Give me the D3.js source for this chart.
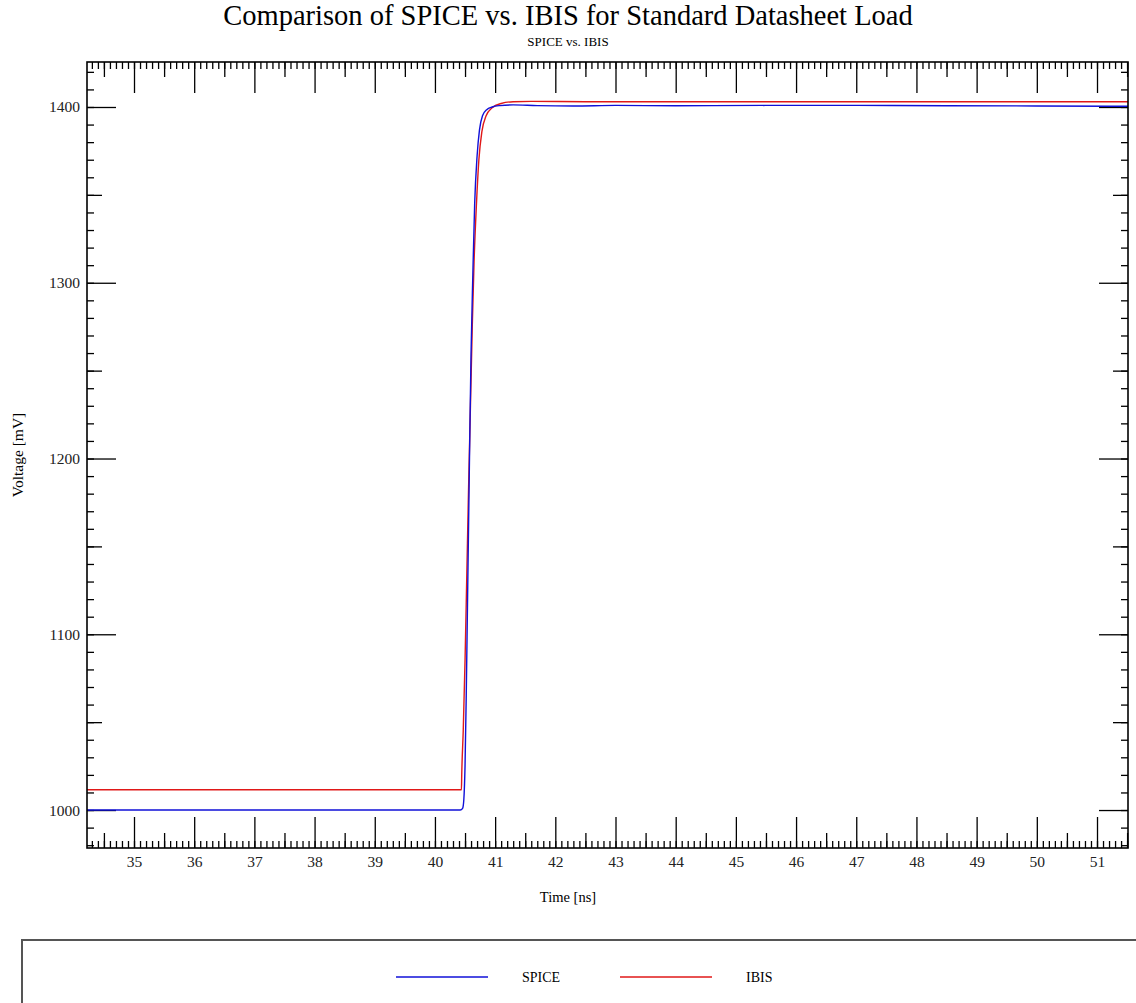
<!DOCTYPE html>
<html>
<head>
<meta charset="utf-8">
<script src="https://cdn.jsdelivr.net/npm/d3@7"></script>
<style>
  body { margin: 0; background: #fff; }
  svg { display: block; font-family: "Liberation Serif", "Times New Roman", serif; }
  .axis path { display: none; }
  .axis line { stroke: #000; stroke-width: 1.3; }
  .axis text { font-size: 15.5px; fill: #222; font-family: "Liberation Serif", "Times New Roman", serif; }
</style>
</head>
<body>
<div id="chart"></div>
<script>
// series data (time in ns, voltage in mV)
const spiceTime = [34.22, 40.42, 40.46, 40.48, 40.50, 40.52, 40.54, 40.56, 40.58, 40.60, 40.63, 40.66, 40.70, 40.74, 40.79, 40.86, 40.95, 41.08, 41.3, 41.7, 42.3, 43.0, 44.0, 45.5, 47.0, 48.5, 50.0, 51.52];
const spiceVolt = [1000, 1000, 1001, 1006, 1025, 1065, 1115, 1165, 1215, 1260, 1305, 1345, 1372, 1387, 1395, 1398.5, 1400, 1400.8, 1401.2, 1400.8, 1400.6, 1400.9, 1400.7, 1400.9, 1400.9, 1400.7, 1400.6, 1400.4];

const ibisTime = [34.22, 40.44, 40.445, 40.47, 40.50, 40.53, 40.56, 40.59, 40.62, 40.65, 40.69, 40.73, 40.78, 40.85, 40.95, 41.1, 41.3, 41.6, 42.5, 45, 48, 51.52];
const ibisVolt = [1011.5, 1011.5, 1020, 1045, 1085, 1135, 1185, 1230, 1275, 1312, 1345, 1370, 1386, 1395, 1399.5, 1402, 1403, 1403.2, 1403, 1403, 1403, 1403];

const seriesNames = ["SPICE", "IBIS"];
const seriesColors = ["#1010d8", "#e01818"];

const xDomain = [34.219, 51.515];
const yDomain = [978.4, 1425.6];
const xMajorTicks = d3.range(35, 52);
const yMajorTicks = [1000, 1100, 1200, 1300, 1400];

const svgWidth = 1136;
const svgHeight = 1003;
const margin = { top: 62, right: 8, bottom: 155, left: 87 };
const width = svgWidth - margin.left - margin.right;
const height = svgHeight - margin.top - margin.bottom;

const svg = d3.select("#chart").append("svg")
  .attr("width", svgWidth)
  .attr("height", svgHeight);

svg.append("rect").attr("width", svgWidth).attr("height", svgHeight).attr("fill", "#fff");

// titles
svg.append("text")
  .attr("x", 568).attr("y", 25)
  .attr("text-anchor", "middle")
  .style("font-size", "28.5px")
  .text("Comparison of SPICE vs. IBIS for Standard Datasheet Load");

svg.append("text")
  .attr("x", 568).attr("y", 46)
  .attr("text-anchor", "middle")
  .style("font-size", "13px")
  .text("SPICE vs. IBIS");

const chartGroup = svg.append("g")
  .attr("transform", `translate(${margin.left}, ${margin.top})`);

const x = d3.scaleLinear().domain(xDomain).range([0, width]);
const y = d3.scaleLinear().domain(yDomain).range([height, 0]);

// tick sets: minor every 0.1 ns / 10 mV, medium at the halves
const xMinor = d3.range(343, 516).map(i => i / 10);
const xMedium = d3.range(69, 104, 2).map(i => i / 2);
const yMinor = d3.range(98, 143).map(i => i * 10);
const yMedium = d3.range(1050, 1450, 100);

function tickAxis(axisFn, scale, values, size, labels) {
  const a = axisFn(scale).tickValues(values).tickSize(-size);
  a.tickFormat(labels ? d3.format("d") : "");
  return a;
}

// bottom
chartGroup.append("g").attr("class", "axis").attr("transform", `translate(0, ${height})`)
  .call(tickAxis(d3.axisBottom, x, xMinor, 7, false));
chartGroup.append("g").attr("class", "axis").attr("transform", `translate(0, ${height})`)
  .call(tickAxis(d3.axisBottom, x, xMedium, 15, false));
chartGroup.append("g").attr("class", "axis").attr("transform", `translate(0, ${height})`)
  .call(tickAxis(d3.axisBottom, x, xMajorTicks, 31, true).tickPadding(8));

// top
chartGroup.append("g").attr("class", "axis")
  .call(tickAxis(d3.axisTop, x, xMinor, 7, false));
chartGroup.append("g").attr("class", "axis")
  .call(tickAxis(d3.axisTop, x, xMedium, 15, false));
chartGroup.append("g").attr("class", "axis")
  .call(tickAxis(d3.axisTop, x, xMajorTicks, 31, false));

// left
chartGroup.append("g").attr("class", "axis")
  .call(tickAxis(d3.axisLeft, y, yMinor, 7, false));
chartGroup.append("g").attr("class", "axis")
  .call(tickAxis(d3.axisLeft, y, yMedium, 15, false));
chartGroup.append("g").attr("class", "axis")
  .call(tickAxis(d3.axisLeft, y, yMajorTicks, 29, true).tickPadding(7));

// right
chartGroup.append("g").attr("class", "axis").attr("transform", `translate(${width}, 0)`)
  .call(tickAxis(d3.axisRight, y, yMinor, 7, false));
chartGroup.append("g").attr("class", "axis").attr("transform", `translate(${width}, 0)`)
  .call(tickAxis(d3.axisRight, y, yMedium, 15, false));
chartGroup.append("g").attr("class", "axis").attr("transform", `translate(${width}, 0)`)
  .call(tickAxis(d3.axisRight, y, yMajorTicks, 29, false));

// clip + lines
chartGroup.append("clipPath").attr("id", "plotClip")
  .append("rect").attr("width", width).attr("height", height);

const line = d3.line()
  .x(d => x(d[0]))
  .y(d => y(d[1]))
  .curve(d3.curveMonotoneX);

const seriesData = [
  d3.zip(spiceTime, spiceVolt),
  d3.zip(ibisTime, ibisVolt)
];

// IBIS drawn first, SPICE on top
[1, 0].forEach(i => {
  chartGroup.append("path")
    .datum(seriesData[i])
    .attr("clip-path", "url(#plotClip)")
    .attr("fill", "none")
    .attr("stroke", seriesColors[i])
    .attr("stroke-width", 1.4)
    .attr("d", line);
});

// frame
chartGroup.append("rect")
  .attr("width", width).attr("height", height)
  .attr("fill", "none")
  .attr("stroke", "#000")
  .attr("stroke-width", 1.6);

// axis titles
svg.append("text")
  .attr("x", 568)
  .attr("y", 902)
  .attr("text-anchor", "middle")
  .style("font-size", "14.5px")
  .text("Time [ns]");

svg.append("text")
  .attr("transform", "rotate(-90)")
  .attr("x", -455)
  .attr("y", 23)
  .attr("text-anchor", "middle")
  .style("font-size", "15.5px")
  .text("Voltage [mV]");

// legend box
svg.append("rect")
  .attr("x", 22).attr("y", 940)
  .attr("width", 1200).attr("height", 200)
  .attr("fill", "none")
  .attr("stroke", "#555")
  .attr("stroke-width", 2);

const legendX = [396, 620];
seriesNames.forEach((name, i) => {
  const g = svg.append("g").attr("transform", `translate(${legendX[i]}, 977)`);
  g.append("line")
    .attr("x1", 0).attr("x2", 92)
    .attr("stroke", seriesColors[i])
    .attr("stroke-width", 1.4);
  g.append("text")
    .attr("x", 126).attr("y", 5)
    .style("font-size", "14px")
    .text(name);
});
</script>
</body>
</html>
